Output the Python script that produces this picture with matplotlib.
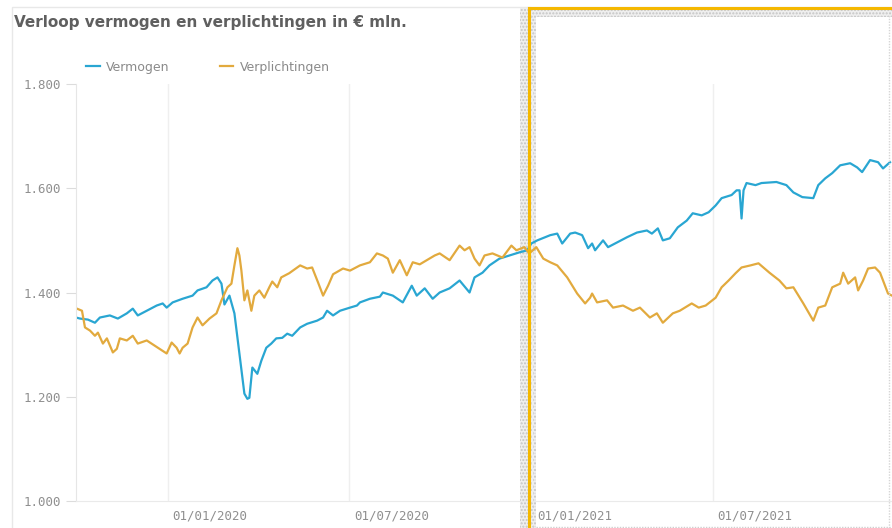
import matplotlib
matplotlib.use('Agg')
import matplotlib.pyplot as plt
import matplotlib.transforms as mtrans
from matplotlib.patches import Rectangle
from matplotlib.lines import Line2D
import numpy as np

# Vermogen (assets), EUR mln
vermogen_dates = [
    '2019-10-01', '2019-10-05', '2019-10-13', '2019-10-20', '2019-10-25', '2019-11-04',
    '2019-11-12', '2019-11-21', '2019-11-27', '2019-12-02', '2019-12-11', '2019-12-21',
    '2019-12-27', '2019-12-31', '2020-01-06', '2020-01-16', '2020-01-26', '2020-01-31',
    '2020-02-09', '2020-02-15', '2020-02-20', '2020-02-24', '2020-02-27', '2020-03-03',
    '2020-03-08', '2020-03-13', '2020-03-18', '2020-03-21', '2020-03-23', '2020-03-26',
    '2020-03-31', '2020-04-04', '2020-04-09', '2020-04-14', '2020-04-19', '2020-04-25',
    '2020-04-30', '2020-05-05', '2020-05-13', '2020-05-20', '2020-05-30', '2020-06-05',
    '2020-06-09', '2020-06-15', '2020-06-22', '2020-07-02', '2020-07-09', '2020-07-12',
    '2020-07-22', '2020-08-01', '2020-08-04', '2020-08-14', '2020-08-24', '2020-09-02',
    '2020-09-07', '2020-09-15', '2020-09-23', '2020-09-30', '2020-10-10', '2020-10-20',
    '2020-10-30', '2020-11-04', '2020-11-12', '2020-11-19', '2020-11-29', '2020-12-09',
    '2020-12-19', '2020-12-27', '2020-12-31', '2021-01-06', '2021-01-19', '2021-01-26',
    '2021-01-31', '2021-02-08', '2021-02-13', '2021-02-20', '2021-02-26', '2021-03-02',
    '2021-03-05', '2021-03-13', '2021-03-18', '2021-03-27', '2021-04-06', '2021-04-16',
    '2021-04-26', '2021-05-01', '2021-05-07', '2021-05-12', '2021-05-19', '2021-05-27',
    '2021-06-05', '2021-06-11', '2021-06-20', '2021-06-27', '2021-07-04', '2021-07-10',
    '2021-07-20', '2021-07-25', '2021-07-28', '2021-07-30', '2021-08-01', '2021-08-04',
    '2021-08-13', '2021-08-19', '2021-09-03', '2021-09-13', '2021-09-20', '2021-09-29',
    '2021-10-10', '2021-10-15', '2021-10-22', '2021-10-29', '2021-11-06', '2021-11-16',
    '2021-11-23', '2021-11-28', '2021-12-06', '2021-12-14', '2021-12-19', '2021-12-26',
]
vermogen = [
    1352, 1350, 1348, 1342, 1352, 1356,
    1350, 1360, 1369, 1356, 1365, 1375,
    1379, 1371, 1381, 1388, 1394, 1404,
    1410, 1423, 1429, 1417, 1377, 1394,
    1360, 1283, 1206, 1196, 1198, 1256,
    1244, 1269, 1294, 1302, 1312, 1313,
    1321, 1317, 1333, 1340, 1346, 1352,
    1365, 1356, 1365, 1371, 1375, 1381,
    1388, 1392, 1400, 1394, 1381, 1413,
    1394, 1408, 1388, 1400, 1408, 1423,
    1400, 1429, 1438, 1452, 1465, 1471,
    1477, 1481, 1494, 1500, 1510, 1513,
    1494, 1513, 1515, 1510, 1485, 1494,
    1481, 1500, 1487, 1496, 1506, 1515,
    1519, 1513, 1523, 1500, 1504, 1525,
    1538, 1552, 1548, 1554, 1567, 1581,
    1587, 1596, 1596, 1542, 1596, 1610,
    1606, 1610, 1612, 1606, 1592, 1583,
    1581, 1606, 1619, 1629, 1644, 1648,
    1640, 1631, 1654, 1650, 1638, 1650,
]

# Verplichtingen (liabilities), EUR mln
verpl_dates = [
    '2019-10-02', '2019-10-07', '2019-10-10', '2019-10-15', '2019-10-20', '2019-10-23',
    '2019-10-28', '2019-11-01', '2019-11-07', '2019-11-11', '2019-11-14', '2019-11-21',
    '2019-11-27', '2019-12-02', '2019-12-11', '2019-12-19', '2019-12-24', '2019-12-31',
    '2020-01-05', '2020-01-10', '2020-01-13', '2020-01-16', '2020-01-21', '2020-01-26',
    '2020-01-31', '2020-02-05', '2020-02-12', '2020-02-19', '2020-02-24', '2020-03-01',
    '2020-03-05', '2020-03-08', '2020-03-11', '2020-03-13', '2020-03-15', '2020-03-18',
    '2020-03-21', '2020-03-25', '2020-03-28', '2020-04-02', '2020-04-07', '2020-04-12',
    '2020-04-15', '2020-04-20', '2020-04-24', '2020-05-02', '2020-05-13', '2020-05-20',
    '2020-05-25', '2020-05-31', '2020-06-05', '2020-06-10', '2020-06-15', '2020-06-25',
    '2020-07-02', '2020-07-12', '2020-07-22', '2020-07-29', '2020-08-04', '2020-08-09',
    '2020-08-14', '2020-08-21', '2020-08-28', '2020-09-03', '2020-09-10', '2020-09-25',
    '2020-09-30', '2020-10-10', '2020-10-20', '2020-10-25', '2020-10-30', '2020-11-04',
    '2020-11-09', '2020-11-14', '2020-11-22', '2020-12-02', '2020-12-11', '2020-12-16',
    '2020-12-24', '2020-12-29', '2021-01-05', '2021-01-12', '2021-01-19', '2021-01-26',
    '2021-02-05', '2021-02-15', '2021-02-23', '2021-02-28', '2021-03-02', '2021-03-07',
    '2021-03-17', '2021-03-23', '2021-04-02', '2021-04-12', '2021-04-19', '2021-04-29',
    '2021-05-06', '2021-05-12', '2021-05-22', '2021-05-29', '2021-06-10', '2021-06-17',
    '2021-06-24', '2021-07-04', '2021-07-10', '2021-07-17', '2021-07-24', '2021-07-30',
    '2021-08-08', '2021-08-16', '2021-08-27', '2021-09-06', '2021-09-13', '2021-09-20',
    '2021-09-30', '2021-10-10', '2021-10-15', '2021-10-22', '2021-10-29', '2021-11-06',
    '2021-11-09', '2021-11-14', '2021-11-21', '2021-11-24', '2021-11-29', '2021-12-04',
    '2021-12-11', '2021-12-16', '2021-12-24', '2021-12-28',
]
verplichtingen = [
    1369, 1365, 1333, 1327, 1317, 1323,
    1302, 1312, 1285, 1292, 1312, 1308,
    1317, 1302, 1308, 1298, 1292, 1283,
    1304, 1294, 1283, 1294, 1302, 1333,
    1352, 1337, 1350, 1360, 1385, 1410,
    1417, 1452, 1485, 1471, 1442, 1385,
    1404, 1365, 1394, 1404, 1390, 1410,
    1421, 1410, 1429, 1437, 1452, 1446,
    1448, 1419, 1394, 1413, 1435, 1446,
    1442, 1452, 1458, 1475, 1471, 1465,
    1438, 1462, 1433, 1458, 1454, 1471,
    1475, 1462, 1490, 1481, 1487, 1465,
    1452, 1471, 1475, 1467, 1490, 1481,
    1487, 1475, 1487, 1465, 1458, 1452,
    1429, 1398, 1379, 1390, 1398, 1381,
    1385, 1371, 1375, 1365, 1371, 1352,
    1360, 1342, 1360, 1365, 1379, 1371,
    1375, 1390, 1410, 1423, 1437, 1448,
    1452, 1456, 1438, 1423, 1408, 1410,
    1379, 1346, 1371, 1375, 1410, 1417,
    1438, 1417, 1429, 1404, 1423, 1446,
    1448, 1438, 1398, 1394,
]

y_ticks = [1000, 1200, 1400, 1600, 1800]
y_labels = ['1.000', '1.200', '1.400', '1.600', '1.800']
x_ticks = ['2020-01-01', '2020-07-01', '2021-01-01', '2021-07-01']
x_labels = ['01/01/2020', '01/07/2020', '01/01/2021', '01/07/2021']

blue = '#29a6d2'
orange = '#e2aa3e'
W, H = 892, 528

fig = plt.figure(figsize=(W / 100, H / 100), dpi=100)
ax = fig.add_axes([76 / W, 27 / H, 816 / W, 417 / H])
ax.patch.set_alpha(0)

ax.plot(np.array(vermogen_dates, dtype='datetime64[D]'), vermogen, color=blue, lw=1.6,
        label='Vermogen')
ax.plot(np.array(verpl_dates, dtype='datetime64[D]'), verplichtingen, color=orange, lw=1.6,
        label='Verplichtingen')

ax.set_xlim(np.datetime64('2019-10-01'), np.datetime64('2021-12-28'))
ax.set_ylim(1000, 1800)

ax.set_yticks(y_ticks)
ax.set_yticklabels(y_labels, family='DejaVu Sans Mono', fontsize=9, color='#8f8f8f')
ax.set_xticks(np.array(x_ticks, dtype='datetime64[D]'))
ax.set_xticklabels(x_labels, family='DejaVu Sans Mono', fontsize=9, color='#8f8f8f', ha='left')
ax.tick_params(axis='y', length=7, width=0.8, color='#dcdcdc', pad=4)
ax.tick_params(axis='x', length=0, pad=6)
offset = mtrans.ScaledTranslation(5 / 100, 0, fig.dpi_scale_trans)
for lbl in ax.get_xticklabels():
    lbl.set_transform(lbl.get_transform() + offset)

ax.grid(axis='x', color='#efefef', lw=1)
for s in ['top', 'right']:
    ax.spines[s].set_visible(False)
ax.spines['left'].set_color('#e6e6e6')
ax.spines['bottom'].set_color('#eaeaea')
ax.set_axisbelow(True)

fig.text(14 / W, 1 - 22 / H, 'Verloop vermogen en verplichtingen in \u20ac mln.',
         fontsize=11, fontweight='bold', color='#5f5f5f', va='center')

fig.legend(loc='center left', bbox_to_anchor=(86 / W, 1 - 67 / H), ncol=2, frameon=False,
           fontsize=9, labelcolor='#8a8a8a', handlelength=1.1, handletextpad=0.5,
           columnspacing=4.0, borderpad=0, borderaxespad=0)

# panel border
fig.patches.append(Rectangle((12 / W, -0.05), 1.0, 1 - 7 / H + 0.05, transform=fig.transFigure,
                             fill=False, ec='#e8e8e8', lw=1))

# selection box with dotted halo (behind the axes so the lines show through)
halo = dict(transform=fig.transFigure, facecolor='#efefef', edgecolor='#c4c4c4',
            hatch='.....', lw=0, zorder=-1)
fig.patches.append(Rectangle((520 / W, 0), 16 / W, 1 - 8 / H, **halo))
fig.patches.append(Rectangle((536 / W, 1 - 17 / H), 1, 9 / H, **halo))
fig.lines.append(Line2D([529 / W, 529 / W], [0, 1 - 8 / H], transform=fig.transFigure,
                        color='#f5b800', lw=2.2))
fig.lines.append(Line2D([529 / W, 1], [1 - 8 / H, 1 - 8 / H], transform=fig.transFigure,
                        color='#f5b800', lw=2.2))
fig.lines.append(Line2D([536 / W, 1], [1 / H, 1 / H], transform=fig.transFigure,
                        color='#cfcfcf', lw=1, ls=(0, (1, 1))))
fig.lines.append(Line2D([889 / W, 889 / W], [0, 1 - 16 / H], transform=fig.transFigure,
                        color='#d5d5d5', lw=1, ls=(0, (1, 1))))

fig.savefig('out.png', dpi=100, facecolor='white')
